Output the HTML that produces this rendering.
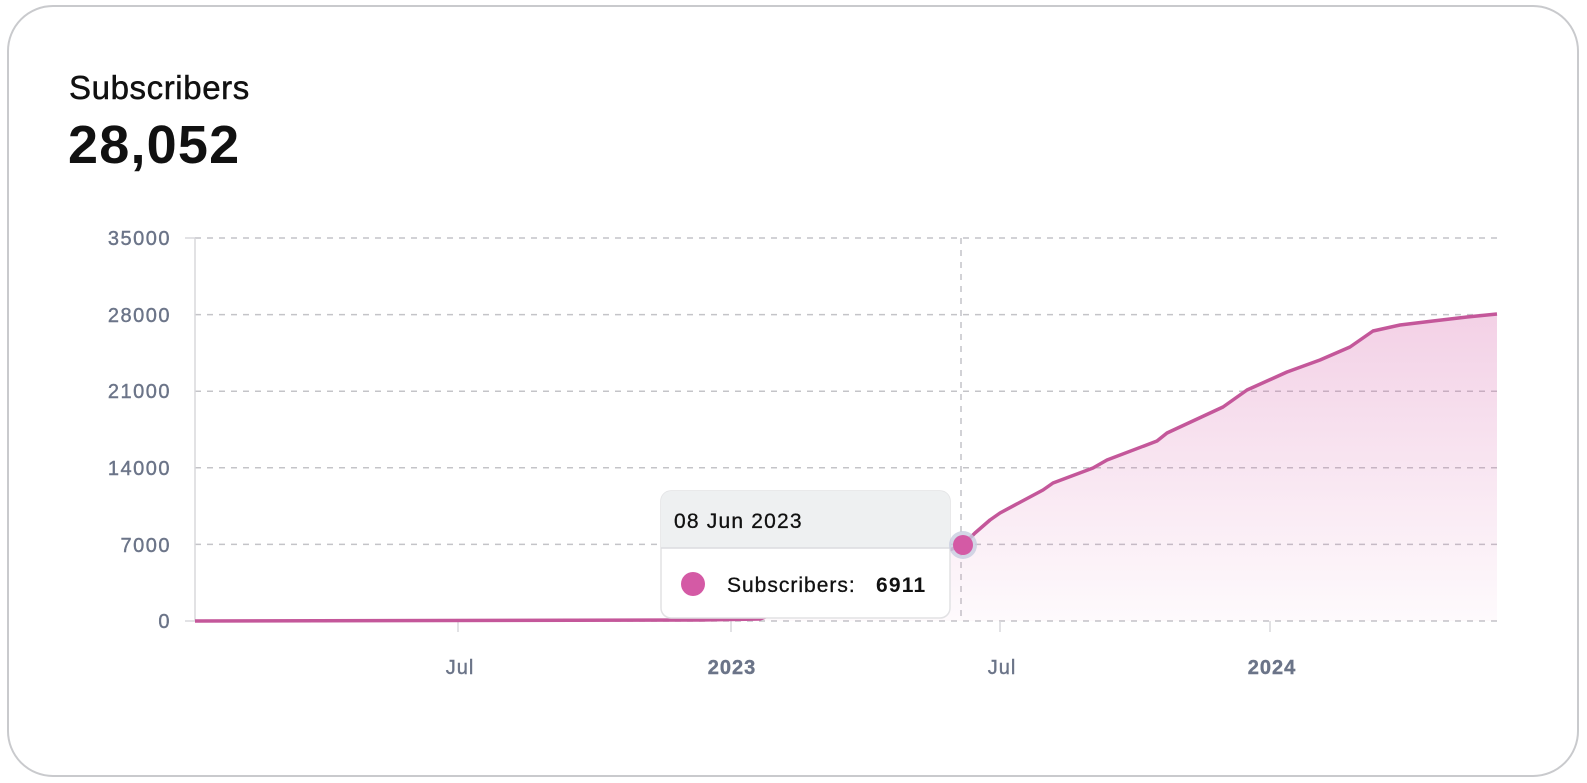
<!DOCTYPE html>
<html><head><style>
body{margin:0;width:1587px;height:783px;background:#fff;overflow:hidden;font-family:"Liberation Sans",sans-serif}
.card{position:absolute;left:7px;top:5px;width:1572px;height:772px;border:2px solid #c9cacd;border-radius:46px;box-sizing:border-box}
</style></head><body>
<div class="card"></div>
<svg width="1587" height="783" style="position:absolute;left:0;top:0">
<defs><linearGradient id="g" x1="0" y1="0" x2="0" y2="1"><stop offset="0" stop-color="#d45aa5" stop-opacity="0.28"/><stop offset="1" stop-color="#d45aa5" stop-opacity="0.03"/></linearGradient></defs>
<text x="69" y="99" font-size="33" letter-spacing="0.6" fill="#111" stroke="#111" stroke-width="0.5">Subscribers</text>
<text x="68" y="163" font-size="54" letter-spacing="1.2" font-weight="bold" fill="#111">28,052</text>
<g stroke="#c4c4c8" stroke-width="1.5" stroke-dasharray="6,6">
<line x1="195" y1="238" x2="1497" y2="238"/><line x1="195" y1="314.6" x2="1497" y2="314.6"/>
<line x1="195" y1="391.2" x2="1497" y2="391.2"/><line x1="195" y1="467.8" x2="1497" y2="467.8"/>
<line x1="195" y1="544.4" x2="1497" y2="544.4"/><line x1="195" y1="621" x2="1497" y2="621"/>
<line x1="961" y1="238" x2="961" y2="621"/>
</g>
<g stroke="#d8d8dc" stroke-width="1.5"><line x1="195" y1="238" x2="195" y2="621"/>
<line x1="185" y1="238" x2="195" y2="238"/><line x1="185" y1="621" x2="195" y2="621"/>
<line x1="458" y1="621" x2="458" y2="632"/><line x1="731" y1="621" x2="731" y2="632"/><line x1="1000" y1="621" x2="1000" y2="632"/><line x1="1270" y1="621" x2="1270" y2="632"/></g>
<g font-size="20" letter-spacing="1.5" fill="#6b7488" stroke="#6b7488" stroke-width="0.4" text-anchor="end">
<text x="171" y="245">35000</text><text x="171" y="322">28000</text><text x="171" y="398">21000</text><text x="171" y="475">14000</text><text x="171" y="552">7000</text><text x="171" y="628">0</text></g>
<g font-size="20" letter-spacing="1" fill="#6b7488" stroke="#6b7488" stroke-width="0.4" text-anchor="middle">
<text x="460" y="674">Jul</text><text x="732" y="674" font-weight="bold">2023</text><text x="1002" y="674">Jul</text><text x="1272" y="674" font-weight="bold">2024</text></g>
<path d="M195,621 L700,620 L760,619 L963,545 L975,533 L990,520 L1000,513 L1043,490 L1053,483 L1093,468 L1107,460 L1157,441 L1167,433 L1223,407 L1247,390 L1287,372 L1320,360 L1350,347 L1373,331 L1400,325 L1433,321 L1467,317 L1497,314 L1497,621 Z" fill="url(#g)"/>
<path d="M195,621 L700,620 L760,619 L963,545 L975,533 L990,520 L1000,513 L1043,490 L1053,483 L1093,468 L1107,460 L1157,441 L1167,433 L1223,407 L1247,390 L1287,372 L1320,360 L1350,347 L1373,331 L1400,325 L1433,321 L1467,317 L1497,314" fill="none" stroke="#c4579a" stroke-width="3.5" stroke-linejoin="round"/>
<rect x="661" y="491" width="289" height="127" rx="10" fill="#fff" stroke="#e2e2e4" stroke-width="1.5"/>
<path d="M661,548 V501 a10,10 0 0 1 10,-10 H940 a10,10 0 0 1 10,10 V548 Z" fill="#eef0f1"/>
<line x1="661" y1="548" x2="950" y2="548" stroke="#dcdcdf" stroke-width="1.5"/>
<text x="674" y="528" font-size="21" letter-spacing="1.2" fill="#111" stroke="#111" stroke-width="0.3">08 Jun 2023</text>
<circle cx="693" cy="584" r="12" fill="#d45aa5"/>
<text x="727" y="592" font-size="21" letter-spacing="1" fill="#111" stroke="#111" stroke-width="0.3">Subscribers:</text>
<text x="876" y="592" font-size="21" letter-spacing="1.2" font-weight="bold" fill="#111">6911</text>
<circle cx="963" cy="545" r="14" fill="#c8cde0" opacity="0.8"/>
<circle cx="963" cy="545" r="10" fill="#d45aa5"/>
</svg>
</body></html>
